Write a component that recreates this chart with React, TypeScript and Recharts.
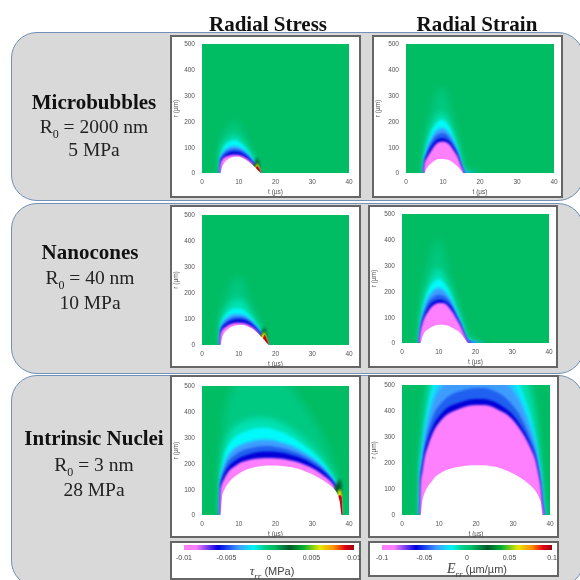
import React from "react";
import { AreaChart, Area, XAxis, YAxis, CartesianGrid } from "recharts";

const tTicks = [0, 10, 20, 30, 40];
const rTicks = [0, 100, 200, 300, 400, 500];
const stressTicks = [-0.01, -0.005, 0, 0.005, 0.01];
const strainTicks = [-0.1, -0.05, 0, 0.05, 0.1];

const bandColors: Record<string, string> = {
  haze: "#00c982",
  teal: "#00e2b4",
  cyan: "#00fafa",
  sky: "#20c8ff",
  light: "#3f9cff",
  mid: "#2060f0",
  blue: "#0000d8",
  pink: "#ff80ff",
  darkGreen: "#005a2c",
  yellow: "#e8e800",
  red: "#c80018",
  white: "#ffffff",
};
const bandOrder = ["haze", "teal", "cyan", "sky", "light", "mid", "blue", "pink", "darkGreen", "yellow", "red", "white"];

// Microbubbles, radial stress
const mbStressT = [4.8, 5, 5.5, 6, 7, 8, 9, 10, 11, 12, 13, 14, 15, 15.5, 16];
const mbStress = {
  haze: [0, 90, 135, 160, 180, 195, 200, 190, 165, 135, 100, 65, 33, 14, 0],
  teal: [0, 75, 105, 120, 135, 143, 146, 140, 125, 106, 83, 56, 30, 13, 0],
  cyan: [0, 66, 90, 104, 118, 125, 127, 122, 110, 96, 76, 52, 28, 12, 0],
  light: [0, 58, 76, 86, 97, 103, 104, 101, 93, 82, 66, 46, 25, 12, 0],
  mid: [0, 52, 68, 77, 87, 92, 93, 91, 85, 75, 60, 42, 23, 11, 0],
  blue: [0, 45, 60, 68, 77, 82, 83, 81, 76, 67, 54, 38, 20, 10, 0],
  pink: [0, 35, 52, 60, 66, 70, 71, 70, 66, 58, 47, 33, 17, 9, 0],
  darkGreen: [0, 0, 0, 0, 0, 0, 0, 0, 0, 0, 0, 28, 58, 45, 0],
  yellow: [0, 0, 0, 0, 0, 0, 0, 0, 0, 0, 0, 0, 38, 24, 0],
  red: [0, 0, 0, 0, 0, 0, 0, 0, 0, 0, 0, 0, 26, 18, 0],
  white: [0, 0, 25, 38, 52, 60, 63, 63, 58, 50, 40, 28, 14, 7, 0],
};

// Microbubbles, radial strain
const mbStrainT = [4.7, 5, 5.5, 6, 7, 8, 9, 10, 11, 12, 13, 14, 15, 15.5, 16, 20, 22];
const mbStrain = {
  haze: [0, 85, 140, 190, 250, 300, 330, 335, 300, 250, 190, 125, 55, 25, 15, 5, 0],
  teal: [0, 70, 110, 145, 185, 215, 230, 232, 218, 190, 150, 105, 45, 20, 10, 3, 0],
  cyan: [0, 62, 100, 127, 165, 190, 203, 205, 194, 172, 136, 95, 41, 17, 7, 0, 0],
  light: [0, 55, 85, 108, 140, 160, 172, 174, 165, 148, 120, 85, 36, 15, 5, 0, 0],
  mid: [0, 50, 75, 95, 122, 143, 152, 155, 148, 133, 108, 78, 33, 12, 3, 0, 0],
  blue: [0, 45, 65, 82, 108, 125, 134, 136, 130, 118, 97, 70, 30, 10, 0, 0, 0],
  pink: [0, 40, 55, 68, 90, 110, 120, 122, 118, 107, 85, 62, 25, 8, 0, 0, 0],
  white: [0, 0, 16, 26, 40, 50, 54, 54, 52, 47, 37, 24, 8, 0, 0, 0, 0],
};

// Nanocones, radial stress
const ncStressT = [4.8, 5, 5.5, 6, 7, 8, 9, 10, 11, 12, 13, 14, 15, 16, 17, 17.5, 18.2];
const ncStress = {
  haze: [0, 95, 135, 165, 200, 235, 260, 270, 250, 210, 170, 130, 95, 65, 36, 19, 0],
  teal: [0, 80, 110, 130, 150, 165, 175, 178, 170, 155, 133, 110, 85, 60, 33, 18, 0],
  cyan: [0, 70, 96, 110, 126, 136, 140, 140, 136, 127, 113, 96, 75, 54, 31, 16, 0],
  light: [0, 62, 83, 95, 107, 115, 118, 118, 116, 110, 100, 86, 69, 50, 28, 15, 0],
  mid: [0, 56, 75, 85, 96, 104, 108, 108, 107, 102, 93, 81, 65, 47, 27, 14, 0],
  blue: [0, 50, 68, 76, 87, 94, 98, 99, 98, 94, 86, 75, 60, 43, 25, 13, 0],
  pink: [0, 40, 58, 65, 75, 82, 85, 86, 85, 82, 75, 66, 53, 38, 22, 12, 0],
  darkGreen: [0, 0, 0, 0, 0, 0, 0, 0, 0, 0, 0, 0, 0, 40, 68, 50, 0],
  yellow: [0, 0, 0, 0, 0, 0, 0, 0, 0, 0, 0, 0, 0, 30, 50, 32, 0],
  red: [0, 0, 0, 0, 0, 0, 0, 0, 0, 0, 0, 0, 0, 0, 38, 26, 0],
  white: [0, 0, 30, 45, 60, 70, 75, 77, 77, 74, 67, 60, 47, 33, 19, 10, 0],
};

// Nanocones, radial strain
const ncStrainT = [4.6, 5, 5.5, 6, 7, 8, 9, 10, 11, 12, 13, 14, 15, 16, 17, 18, 20, 23];
const ncStrain = {
  haze: [0, 90, 165, 220, 295, 350, 390, 405, 370, 310, 260, 200, 150, 100, 52, 18, 8, 0],
  teal: [0, 75, 135, 175, 225, 255, 280, 290, 270, 245, 215, 175, 132, 92, 48, 16, 7, 0],
  cyan: [0, 67, 120, 158, 202, 226, 242, 248, 240, 222, 197, 164, 124, 87, 45, 14, 6, 0],
  light: [0, 60, 105, 135, 175, 195, 208, 213, 208, 195, 175, 148, 113, 80, 41, 12, 5, 0],
  mid: [0, 55, 95, 120, 155, 172, 183, 187, 185, 176, 160, 135, 105, 75, 38, 10, 3, 0],
  blue: [0, 50, 85, 105, 135, 155, 164, 168, 167, 160, 147, 125, 98, 70, 36, 8, 0, 0],
  pink: [0, 45, 75, 95, 120, 140, 150, 155, 155, 150, 135, 115, 90, 65, 32, 5, 0, 0],
  white: [0, 0, 22, 38, 52, 62, 68, 71, 71, 69, 64, 56, 48, 37, 17, 0, 0, 0],
};

// Intrinsic nuclei, radial stress
const inStressT = [4.8, 5, 5.5, 6, 7, 8, 9, 10, 12, 14, 16, 18, 20, 22, 24, 26, 28, 30, 32, 34, 35, 36, 37, 37.5, 38, 38.2];
const inStress = {
  haze: [0, 220, 320, 380, 450, 490, 515, 530, 545, 555, 560, 555, 545, 525, 500, 465, 425, 380, 330, 270, 235, 195, 135, 85, 14, 0],
  teal: [0, 165, 225, 265, 305, 330, 345, 355, 368, 375, 378, 375, 368, 355, 338, 318, 295, 268, 235, 195, 172, 148, 110, 72, 12, 0],
  cyan: [0, 150, 195, 228, 266, 288, 303, 313, 326, 334, 338, 337, 330, 320, 305, 288, 266, 244, 217, 183, 162, 140, 106, 69, 11, 0],
  light: [0, 135, 170, 195, 228, 247, 260, 268, 280, 288, 292, 292, 288, 280, 270, 257, 240, 222, 200, 170, 152, 132, 101, 66, 10, 0],
  mid: [0, 125, 155, 175, 205, 222, 233, 243, 255, 262, 266, 267, 264, 259, 250, 240, 226, 210, 190, 163, 146, 127, 98, 64, 9, 0],
  blue: [0, 115, 140, 158, 183, 200, 210, 220, 232, 240, 245, 246, 245, 241, 234, 226, 214, 198, 180, 156, 140, 122, 95, 62, 8, 0],
  pink: [0, 100, 125, 140, 165, 180, 190, 200, 210, 217, 220, 221, 220, 218, 212, 205, 195, 182, 165, 143, 130, 113, 88, 58, 5, 0],
  darkGreen: [0, 0, 0, 0, 0, 0, 0, 0, 0, 0, 0, 0, 0, 0, 0, 0, 0, 0, 0, 0, 0, 100, 130, 140, 120, 0],
  yellow: [0, 0, 0, 0, 0, 0, 0, 0, 0, 0, 0, 0, 0, 0, 0, 0, 0, 0, 0, 0, 0, 0, 90, 100, 85, 0],
  red: [0, 0, 0, 0, 0, 0, 0, 0, 0, 0, 0, 0, 0, 0, 0, 0, 0, 0, 0, 0, 0, 0, 70, 78, 70, 0],
  white: [0, 0, 75, 95, 120, 138, 150, 160, 175, 184, 190, 192, 192, 190, 186, 180, 170, 158, 142, 124, 113, 100, 77, 50, 0, 0],
};

// Intrinsic nuclei, radial strain
const inStrainT = [4.8, 5, 5.5, 6, 7, 8, 9, 10, 12, 14, 16, 18, 20, 22, 24, 26, 28, 30, 32, 34, 35, 36, 37, 37.5, 38, 38.5];
const inStrain = {
  haze: [0, 215, 320, 410, 530, 630, 700, 740, 800, 830, 850, 860, 865, 860, 850, 830, 800, 740, 680, 580, 520, 440, 290, 190, 80, 0],
  teal: [0, 190, 280, 360, 470, 560, 620, 660, 700, 730, 750, 760, 765, 760, 750, 730, 700, 650, 590, 500, 440, 370, 240, 160, 65, 0],
  cyan: [0, 170, 250, 320, 410, 480, 530, 560, 600, 630, 650, 660, 665, 660, 650, 630, 600, 550, 490, 410, 360, 300, 200, 140, 60, 0],
  sky: [0, 162, 237, 302, 385, 447, 492, 520, 555, 580, 597, 605, 610, 605, 597, 580, 555, 512, 460, 385, 340, 285, 192, 135, 57, 0],
  light: [0, 155, 225, 285, 360, 415, 455, 480, 510, 530, 545, 550, 555, 550, 545, 530, 510, 475, 430, 360, 320, 270, 185, 130, 55, 0],
  mid: [0, 145, 205, 255, 320, 365, 400, 420, 450, 468, 478, 485, 488, 488, 482, 470, 450, 420, 380, 320, 285, 245, 170, 122, 50, 0],
  blue: [0, 135, 190, 235, 290, 330, 360, 380, 410, 425, 435, 443, 446, 446, 440, 428, 410, 385, 345, 295, 262, 225, 160, 115, 45, 0],
  pink: [0, 120, 170, 215, 265, 305, 335, 355, 385, 400, 412, 420, 423, 423, 418, 405, 390, 365, 328, 280, 250, 215, 150, 110, 40, 0],
  white: [0, 0, 55, 80, 110, 128, 147, 158, 173, 182, 187, 190, 191, 191, 188, 183, 172, 160, 143, 122, 110, 94, 68, 50, 0, 0],
};

function buildRows(t: number[], bands: Record<string, number[]>) {
  return t.map((value, i) => {
    const row: Record<string, number> = { t: value };
    Object.keys(bands).forEach((k) => {
      row[k] = bands[k][i];
    });
    return row;
  });
}

const PANEL_BG = "#d9d9d9";
const PANEL_EDGE = "#7290b8";
const FRAME = "#666666";

function Heat({ frame, plot, t, bands }: any) {
  const [fx0, fy0, fx1, fy1] = frame;
  const [px0, py0, px1, py1] = plot;
  const rows = buildRows(t, bands);
  const keys = bandOrder.filter((k) => bands[k]);
  return (
    <div style={{ position: "absolute", left: fx0, top: fy0, width: fx1 - fx0, height: fy1 - fy0, background: "#fff", outline: `2px solid ${FRAME}`, outlineOffset: -2 }}>
      <AreaChart
        width={fx1 - fx0}
        height={fy1 - fy0}
        data={rows}
        margin={{ top: py0 - fy0, right: fx1 - px1, bottom: 0, left: 0 }}
      >
        <CartesianGrid fill="#00bc62" horizontal={false} vertical={false} stroke="none" />
        <XAxis
          type="number"
          dataKey="t"
          domain={[0, 40]}
          ticks={tTicks}
          allowDataOverflow
          height={fy1 - py1}
          axisLine={false}
          tickLine={false}
          tickMargin={0}
          tick={{ fontSize: 6.5, fill: "#555", fontFamily: "Liberation Sans" }}
          label={{ value: "t (µs)", position: "insideBottom", offset: fy1 - py1 - 21, fontSize: 6.5, fill: "#555", fontFamily: "Liberation Sans" }}
        />
        <YAxis
          type="number"
          domain={[0, 500]}
          ticks={rTicks}
          allowDataOverflow
          width={px0 - fx0}
          axisLine={false}
          tickLine={false}
          tickMargin={1}
          tick={{ fontSize: 6.5, fill: "#555", fontFamily: "Liberation Sans" }}
          label={{ value: "r (µm)", angle: -90, position: "insideLeft", offset: 6, fontSize: 6.5, fill: "#555", fontFamily: "Liberation Sans", style: { textAnchor: "middle" } }}
        />
        {keys.map((k) => (
          <Area
            key={k}
            className={`b-${k}`}
            type="monotone"
            dataKey={k}
            stroke="none"
            fill={bandColors[k]}
            fillOpacity={1}
            dot={false}
            activeDot={false}
            isAnimationActive={false}
          />
        ))}
      </AreaChart>
    </div>
  );
}

const barStops: [number, string][] = [
  [0, "#ff80ff"],
  [0.07, "#ff80ff"],
  [0.2, "#0000e0"],
  [0.32, "#3f9cff"],
  [0.41, "#00f6f6"],
  [0.47, "#00d090"],
  [0.53, "#00bc62"],
  [0.62, "#005a2c"],
  [0.7, "#00b030"],
  [0.8, "#e8e800"],
  [0.88, "#ff9000"],
  [0.95, "#e00010"],
  [1, "#a00010"],
];

const barRows = [
  { x: -1, v: 1 },
  { x: 1, v: 1 },
];

function ColorBar({ frame, id, ticks, children }: any) {
  const [fx0, fy0, fx1, fy1] = frame;
  const hi = ticks[ticks.length - 1];
  const data = barRows.map((d) => ({ x: d.x * hi, v: d.v }));
  return (
    <div style={{ position: "absolute", left: fx0, top: fy0, width: fx1 - fx0, height: fy1 - fy0, background: "#fff", outline: `2px solid ${FRAME}`, outlineOffset: -2 }}>
      <AreaChart width={fx1 - fx0} height={fy1 - fy0} data={data} margin={{ top: 4, right: 7, bottom: 0, left: 14 }}>
        <defs>
          <linearGradient id={id} x1="0" y1="0" x2="1" y2="0">
            {barStops.map(([o, c]) => (
              <stop key={o} offset={o} stopColor={c} />
            ))}
          </linearGradient>
        </defs>
        <XAxis
          type="number"
          dataKey="x"
          domain={[-hi, hi]}
          ticks={ticks}
          height={fy1 - fy0 - 9}
          axisLine={false}
          tickLine={false}
          tickMargin={-1}
          interval={0}
          tick={{ fontSize: 7, fill: "#444", fontFamily: "Liberation Sans" }}
        />
        <YAxis hide domain={[0, 1]} />
        <Area type="linear" dataKey="v" stroke="none" fill={`url(#${id})`} fillOpacity={1} dot={false} activeDot={false} isAnimationActive={false} />
      </AreaChart>
      {children}
    </div>
  );
}

function Row({ top, height }: any) {
  return (
    <div style={{ position: "absolute", left: 11, top, width: 573, height, boxSizing: "border-box", background: PANEL_BG, border: `1.5px solid ${PANEL_EDGE}`, borderRadius: 26 }} />
  );
}

function Caption({ cx, y, name, r0, press }: any) {
  const line = (text: React.ReactNode, cy: number, bold: boolean) => (
    <div style={{ position: "absolute", left: cx - 85, width: 170, top: cy - 14, height: 28, lineHeight: "28px", textAlign: "center", whiteSpace: "nowrap", fontFamily: "Liberation Serif", fontWeight: bold ? 700 : 400, fontSize: bold ? 21 : 19.5, color: bold ? "#111" : "#222" }}>
      {text}
    </div>
  );
  return (
    <>
      {line(name, y[0], true)}
      {line(
        <>
          R<sub style={{ fontSize: 12, lineHeight: 0 }}>0</sub> = {r0}
        </>,
        y[1],
        false
      )}
      {line(press, y[2], false)}
    </>
  );
}

const blurCss = `
.b-haze .recharts-area-area{filter:blur(5px)}
.b-teal .recharts-area-area{filter:blur(3px)}
.b-cyan .recharts-area-area{filter:blur(1.4px)}
.b-sky .recharts-area-area{filter:blur(2.5px)}
.b-light .recharts-area-area{filter:blur(1.6px)}
.b-mid .recharts-area-area{filter:blur(1.2px)}
.b-blue .recharts-area-area{filter:blur(0.9px)}
.b-pink .recharts-area-area{filter:blur(0.9px)}
.b-darkGreen .recharts-area-area{filter:blur(1.4px)}
.b-yellow .recharts-area-area{filter:blur(0.8px)}
.b-red .recharts-area-area{filter:blur(0.7px)}
.b-white .recharts-area-area{filter:blur(0.4px)}
`;

export default function App() {
  return (
    <div style={{ position: "absolute", left: 0, top: 0, width: 580, height: 580, overflow: "hidden", background: "#fff", filter: "blur(0.45px)" }}>
      <style>{blurCss}</style>
      <Row top={32} height={169} />
      <Row top={203} height={171} />
      <Row top={375} height={212} />

      <div style={{ position: "absolute", left: 168, width: 200, top: 11, textAlign: "center", lineHeight: "26px", fontFamily: "Liberation Serif", fontWeight: 700, fontSize: 21, color: "#111" }}>Radial Stress</div>
      <div style={{ position: "absolute", left: 377, width: 200, top: 11, textAlign: "center", lineHeight: "26px", fontFamily: "Liberation Serif", fontWeight: 700, fontSize: 21, color: "#111" }}>Radial Strain</div>

      <Caption cx={94} y={[102, 127, 150]} name="Microbubbles" r0="2000 nm" press="5 MPa" />
      <Caption cx={90} y={[252, 278, 303]} name="Nanocones" r0="40 nm" press="10 MPa" />
      <Caption cx={94} y={[438, 465, 490]} name="Intrinsic Nuclei" r0="3 nm" press="28 MPa" />

      <Heat frame={[170, 35, 361, 198]} plot={[202, 44, 349, 173]} t={mbStressT} bands={mbStress} />
      <Heat frame={[372, 35, 563, 198]} plot={[406, 44, 554, 173]} t={mbStrainT} bands={mbStrain} />
      <Heat frame={[170, 205, 361, 368]} plot={[202, 215, 349, 345]} t={ncStressT} bands={ncStress} />
      <Heat frame={[368, 205, 558, 368]} plot={[402, 214, 549, 343]} t={ncStrainT} bands={ncStrain} />
      <Heat frame={[170, 375, 361, 538]} plot={[202, 386, 349, 515]} t={inStressT} bands={inStress} />
      <Heat frame={[368, 375, 559, 538]} plot={[402, 385, 550, 515]} t={inStrainT} bands={inStrain} />

      <ColorBar frame={[170, 541, 361, 580]} id="stressBar" ticks={stressTicks}>
        <div style={{ position: "absolute", left: 0, width: 204, top: 23, textAlign: "center", lineHeight: "14px", fontFamily: "Liberation Sans", fontSize: 11, color: "#444" }}>
          <span style={{ fontFamily: "Liberation Serif", fontStyle: "italic", fontSize: 13 }}>τ<sub style={{ fontSize: 9, lineHeight: 0 }}>rr</sub></span> (MPa)
        </div>
      </ColorBar>
      <ColorBar frame={[368, 541, 559, 577]} id="strainBar" ticks={strainTicks}>
        <div style={{ position: "absolute", left: 0, width: 218, top: 21, textAlign: "center", lineHeight: "14px", fontFamily: "Liberation Sans", fontSize: 11, color: "#444" }}>
          <span style={{ fontFamily: "Liberation Serif", fontStyle: "italic", fontSize: 14 }}>E<sub style={{ fontSize: 9, lineHeight: 0 }}>rr</sub></span> (µm/µm)
        </div>
      </ColorBar>
    </div>
  );
}
